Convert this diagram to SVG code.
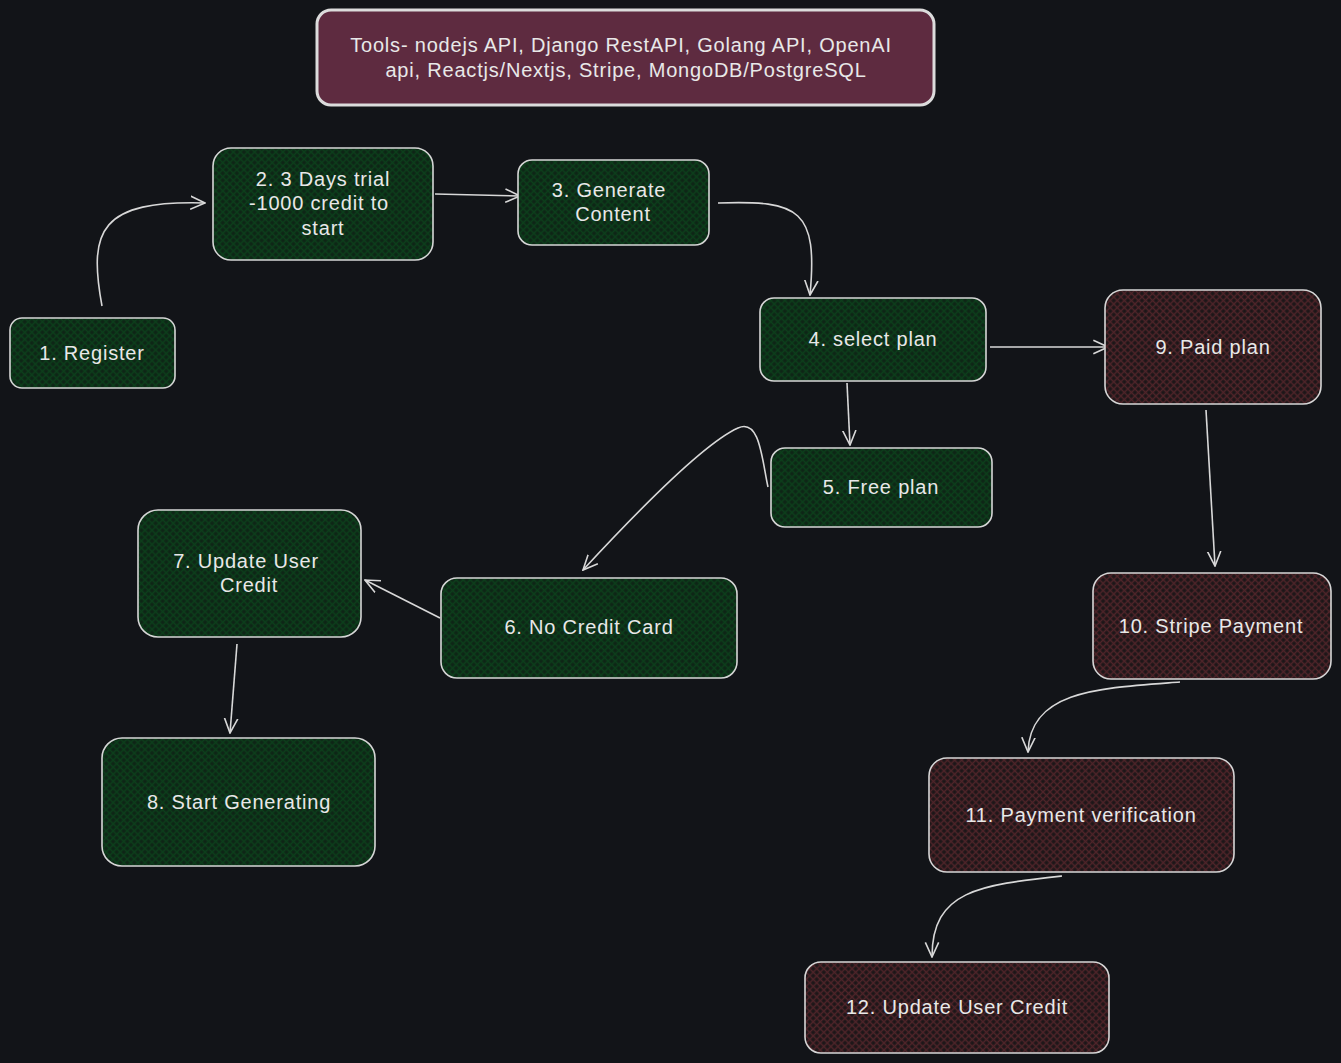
<svg xmlns="http://www.w3.org/2000/svg" width="1341" height="1063" viewBox="0 0 1341 1063">
  <defs>
    <!-- cross-hatch fills for the two node families -->
    <pattern id="hatchGreen" width="5" height="5" patternUnits="userSpaceOnUse" patternTransform="rotate(45)">
      <rect width="5" height="5" fill="#0e2516"/>
      <path d="M0 2.5 H5 M2.5 0 V5" stroke="#0c3f1b" stroke-width="1.5"/>
    </pattern>
    <pattern id="hatchRed" width="5" height="5" patternUnits="userSpaceOnUse" patternTransform="rotate(45)">
      <rect width="5" height="5" fill="#1c1618"/>
      <path d="M0 2.5 H5 M2.5 0 V5" stroke="#4f2429" stroke-width="1.5"/>
    </pattern>
    <marker id="arrow" viewBox="0 0 12 12" refX="11" refY="6" markerWidth="16" markerHeight="16" markerUnits="userSpaceOnUse" orient="auto">
      <path d="M0 1 L11 6 L0 11" fill="none" stroke="#d8d8d8" stroke-width="1.2"/>
    </marker>
  </defs>
  <style>
    .node rect { stroke: #d6d6d6; stroke-width: 1.6; }
    .green rect { fill: url(#hatchGreen); }
    .red rect { fill: url(#hatchRed); }
    .title rect { fill: #5e2b40; stroke: #dcdcdc; stroke-width: 3; }
    text { font-family: "Liberation Sans", "DejaVu Sans", sans-serif; font-size: 20px; letter-spacing: 0.8px; fill: #e8e8e8; text-anchor: middle; dominant-baseline: central; }
    .edges path { fill: none; stroke: #d8d8d8; stroke-width: 1.6; marker-end: url(#arrow); }
  </style>

  <rect width="1341" height="1063" fill="#121418"/>

  <g id="tools" class="node title">
    <rect x="317" y="10" width="617" height="95" rx="14"/>
    <text x="621" y="45">Tools- nodejs API, Django RestAPI, Golang API, OpenAI</text>
    <text x="626" y="70">api, Reactjs/Nextjs, Stripe, MongoDB/PostgreSQL</text>
  </g>

  <g class="edges" id="connectors">
    <path d="M102 306 C 88 230, 100 200, 205 203"/>
    <path d="M435 194 L 520 196"/>
    <path d="M718 203 C 800 200, 818 210, 810 295"/>
    <path d="M990 347 L 1108 347"/>
    <path d="M847 383 L 850 445"/>
    <path d="M768 487 C 762 460, 760 418, 738 428 C 700 445, 620 530, 583 570"/>
    <path d="M440 618 L 365 580"/>
    <path d="M237 644 L 230 733"/>
    <path d="M1206 410 L 1215 566"/>
    <path d="M1180 682 C 1100 688, 1030 690, 1028 752"/>
    <path d="M1062 876 C 980 885, 932 890, 932 957"/>
  </g>

  <g id="n1" class="node green">
    <rect x="10" y="318" width="165" height="70" rx="12"/>
    <text x="92" y="353">1. Register</text>
  </g>
  <g id="n2" class="node green">
    <rect x="213" y="148" width="220" height="112" rx="18"/>
    <text x="323" y="179">2. 3 Days trial</text>
    <text x="319" y="203">-1000 credit to</text>
    <text x="323" y="228">start</text>
  </g>
  <g id="n3" class="node green">
    <rect x="518" y="160" width="191" height="85" rx="14"/>
    <text x="609" y="190">3. Generate</text>
    <text x="613" y="214">Content</text>
  </g>
  <g id="n4" class="node green">
    <rect x="760" y="298" width="226" height="83" rx="14"/>
    <text x="873" y="339">4. select plan</text>
  </g>
  <g id="n5" class="node green">
    <rect x="771" y="448" width="221" height="79" rx="14"/>
    <text x="881" y="487">5. Free plan</text>
  </g>
  <g id="n6" class="node green">
    <rect x="441" y="578" width="296" height="100" rx="16"/>
    <text x="589" y="627">6. No Credit Card</text>
  </g>
  <g id="n7" class="node green">
    <rect x="138" y="510" width="223" height="127" rx="20"/>
    <text x="246" y="561">7. Update User</text>
    <text x="249" y="585">Credit</text>
  </g>
  <g id="n8" class="node green">
    <rect x="102" y="738" width="273" height="128" rx="20"/>
    <text x="239" y="802">8. Start Generating</text>
  </g>
  <g id="n9" class="node red">
    <rect x="1105" y="290" width="216" height="114" rx="18"/>
    <text x="1213" y="347">9. Paid plan</text>
  </g>
  <g id="n10" class="node red">
    <rect x="1093" y="573" width="238" height="106" rx="18"/>
    <text x="1211" y="626">10. Stripe Payment</text>
  </g>
  <g id="n11" class="node red">
    <rect x="929" y="758" width="305" height="114" rx="18"/>
    <text x="1081" y="815">11. Payment verification</text>
  </g>
  <g id="n12" class="node red">
    <rect x="805" y="962" width="304" height="91" rx="16"/>
    <text x="957" y="1007">12. Update User Credit</text>
  </g>
</svg>
